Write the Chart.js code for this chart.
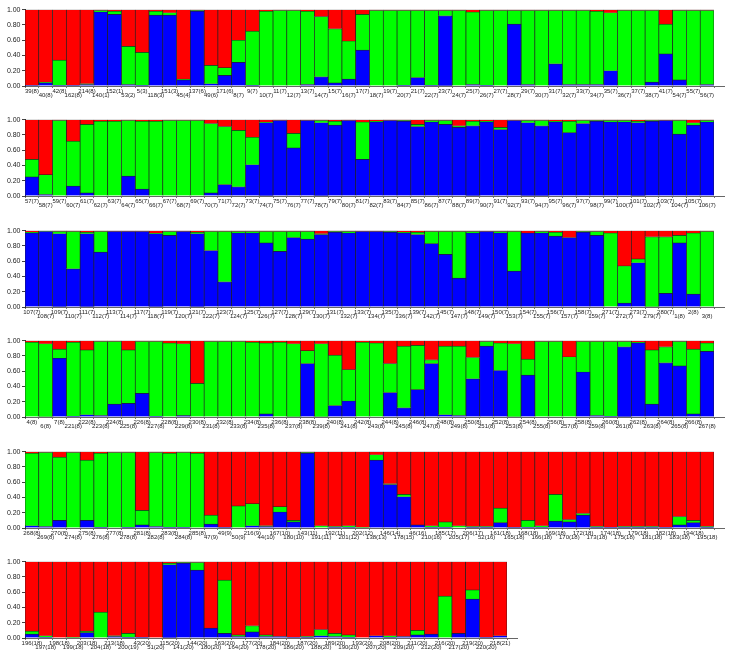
<!DOCTYPE html>
<html>
<head>
<meta charset="utf-8">
<script src="https://cdn.jsdelivr.net/npm/chart.js@4.4.1/dist/chart.umd.min.js"></script>
<style>
  html, body { margin: 0; padding: 0; background: #fff; overflow: hidden; }
  body { width: 732px; height: 656px; position: relative; }
  canvas { position: absolute; left: 0; }
</style>
</head>
<body>
<canvas id="row1" width="732" height="98" style="top:4px"></canvas>
<canvas id="row2" width="732" height="98" style="top:114px"></canvas>
<canvas id="row3" width="732" height="98" style="top:225px"></canvas>
<canvas id="row4" width="732" height="98" style="top:335px"></canvas>
<canvas id="row5" width="732" height="98" style="top:446px"></canvas>
<canvas id="row6" width="525" height="98" style="top:556px"></canvas>
<script>
// cluster membership per individual, bottom to top: blue, green, red
const row1Labels = ['39(8)','40(8)','42(8)','162(8)','214(8)','140(1)','152(1)','53(2)','5(3)','118(3)','151(3)','45(4)','137(6)','49(6)','171(6)','8(7)','9(7)','10(7)','11(7)','12(7)','13(7)','14(7)','15(7)','16(7)','17(7)','18(7)','19(7)','20(7)','21(7)','22(7)','23(7)','24(7)','25(7)','26(7)','27(7)','28(7)','29(7)','30(7)','31(7)','32(7)','33(7)','34(7)','35(7)','36(7)','37(7)','38(7)','41(7)','54(7)','55(7)','56(7)'];
const row1Blue  = [0.01,0.04,0.01,0.01,0.02,0.97,0.94,0.02,0.01,0.93,0.93,0.08,0.98,0.03,0.14,0.31,0.01,0.00,0.00,0.00,0.02,0.12,0.04,0.09,0.47,0.00,0.00,0.01,0.11,0.01,0.92,0.00,0.02,0.01,0.00,0.81,0.02,0.00,0.29,0.02,0.02,0.02,0.20,0.00,0.00,0.05,0.42,0.08,0.00,0.02];
const row1Green = [0.00,0.01,0.33,0.00,0.01,0.02,0.04,0.50,0.43,0.05,0.03,0.01,0.01,0.24,0.10,0.29,0.71,0.98,0.99,0.99,0.96,0.79,0.71,0.50,0.47,0.99,0.99,0.98,0.88,0.98,0.07,0.99,0.95,0.98,0.99,0.18,0.97,0.99,0.70,0.97,0.97,0.96,0.76,0.99,0.99,0.94,0.39,0.91,0.99,0.97];
const row1Red   = [0.99,0.95,0.66,0.99,0.97,0.01,0.02,0.48,0.56,0.02,0.04,0.91,0.01,0.73,0.76,0.40,0.28,0.02,0.01,0.01,0.02,0.09,0.25,0.41,0.06,0.01,0.01,0.01,0.01,0.01,0.01,0.01,0.03,0.01,0.01,0.01,0.01,0.01,0.01,0.01,0.01,0.02,0.04,0.01,0.01,0.01,0.19,0.01,0.01,0.01];

const row2Labels = ['57(7)','58(7)','59(7)','60(7)','61(7)','62(7)','63(7)','64(7)','65(7)','66(7)','67(7)','68(7)','69(7)','70(7)','71(7)','72(7)','73(7)','74(7)','75(7)','76(7)','77(7)','78(7)','79(7)','80(7)','81(7)','82(7)','83(7)','84(7)','85(7)','86(7)','87(7)','88(7)','89(7)','90(7)','91(7)','92(7)','93(7)','94(7)','95(7)','96(7)','97(7)','98(7)','99(7)','100(7)','101(7)','102(7)','103(7)','104(7)','105(7)','106(7)'];
const row2Blue  = [0.25,0.02,0.00,0.13,0.04,0.00,0.00,0.26,0.09,0.00,0.00,0.00,0.00,0.04,0.15,0.12,0.41,0.96,0.99,0.63,0.99,0.96,0.93,0.99,0.48,0.97,0.99,0.98,0.91,0.97,0.94,0.90,0.92,0.97,0.87,0.99,0.96,0.92,0.97,0.83,0.95,0.98,0.97,0.97,0.96,0.98,0.99,0.81,0.93,0.97];
const row2Green = [0.23,0.26,0.99,0.59,0.90,0.98,0.98,0.73,0.89,0.98,0.99,0.99,0.99,0.91,0.76,0.74,0.36,0.01,0.00,0.19,0.00,0.03,0.05,0.00,0.49,0.01,0.00,0.01,0.03,0.02,0.05,0.02,0.06,0.01,0.03,0.00,0.03,0.07,0.01,0.15,0.04,0.01,0.02,0.02,0.02,0.01,0.00,0.18,0.03,0.02];
const row2Red   = [0.52,0.72,0.01,0.28,0.06,0.02,0.02,0.01,0.02,0.02,0.01,0.01,0.01,0.05,0.09,0.14,0.23,0.03,0.01,0.18,0.01,0.01,0.02,0.01,0.03,0.02,0.01,0.01,0.06,0.01,0.01,0.08,0.02,0.02,0.10,0.01,0.01,0.01,0.02,0.02,0.01,0.01,0.01,0.01,0.02,0.01,0.01,0.01,0.04,0.01];

const row3Labels = ['107(7)','108(7)','109(7)','110(7)','111(7)','112(7)','113(7)','114(7)','117(7)','118(7)','119(7)','120(7)','121(7)','122(7)','123(7)','124(7)','125(7)','126(7)','127(7)','128(7)','129(7)','130(7)','131(7)','132(7)','133(7)','134(7)','135(7)','136(7)','139(7)','142(7)','145(7)','147(7)','148(7)','149(7)','150(7)','153(7)','154(7)','155(7)','156(7)','157(7)','158(7)','159(7)','271(7)','272(7)','273(7)','279(7)','280(7)','1(8)','2(8)','3(8)'];
const row3Blue  = [0.97,0.99,0.96,0.50,0.96,0.72,0.99,0.99,0.99,0.96,0.94,0.99,0.96,0.74,0.33,0.97,0.97,0.84,0.73,0.91,0.89,0.95,0.98,0.97,0.99,0.99,0.98,0.97,0.95,0.83,0.69,0.38,0.97,0.99,0.97,0.47,0.97,0.97,0.93,0.91,0.98,0.94,0.00,0.05,0.58,0.00,0.18,0.84,0.17,0.00];
const row3Green = [0.01,0.01,0.03,0.49,0.02,0.27,0.00,0.00,0.00,0.01,0.05,0.00,0.02,0.25,0.66,0.02,0.02,0.15,0.26,0.08,0.10,0.01,0.01,0.02,0.00,0.00,0.01,0.01,0.03,0.16,0.30,0.61,0.02,0.00,0.02,0.52,0.00,0.02,0.05,0.00,0.01,0.05,0.97,0.49,0.05,0.92,0.74,0.10,0.80,0.99];
const row3Red   = [0.02,0.00,0.01,0.01,0.02,0.01,0.01,0.01,0.01,0.03,0.01,0.01,0.02,0.01,0.01,0.01,0.01,0.01,0.01,0.01,0.01,0.04,0.01,0.01,0.01,0.01,0.01,0.02,0.02,0.01,0.01,0.01,0.01,0.01,0.01,0.01,0.03,0.01,0.02,0.09,0.01,0.01,0.03,0.46,0.37,0.08,0.08,0.06,0.03,0.01];

const row4Labels = ['4(8)','6(8)','7(8)','221(8)','222(8)','223(8)','224(8)','225(8)','226(8)','227(8)','228(8)','229(8)','230(8)','231(8)','232(8)','233(8)','234(8)','235(8)','236(8)','237(8)','238(8)','239(8)','240(8)','241(8)','242(8)','243(8)','244(8)','245(8)','246(8)','247(8)','248(8)','249(8)','250(8)','251(8)','252(8)','253(8)','254(8)','255(8)','256(8)','257(8)','258(8)','259(8)','260(8)','261(8)','262(8)','263(8)','264(8)','265(8)','266(8)','267(8)'];
const row4Blue  = [0.00,0.00,0.77,0.01,0.03,0.02,0.17,0.18,0.31,0.01,0.00,0.02,0.00,0.00,0.00,0.00,0.00,0.04,0.00,0.00,0.70,0.00,0.15,0.21,0.00,0.00,0.32,0.12,0.36,0.70,0.03,0.02,0.50,0.93,0.61,0.00,0.55,0.00,0.00,0.00,0.59,0.02,0.01,0.92,0.97,0.17,0.71,0.67,0.04,0.86];
const row4Green = [0.98,0.96,0.12,0.97,0.85,0.97,0.82,0.70,0.68,0.98,0.97,0.94,0.44,0.99,0.99,0.99,0.98,0.93,0.98,0.96,0.17,0.96,0.66,0.41,0.98,0.97,0.38,0.81,0.58,0.05,0.90,0.91,0.28,0.06,0.36,0.96,0.21,0.99,0.99,0.79,0.40,0.97,0.98,0.07,0.01,0.71,0.21,0.32,0.85,0.11];
const row4Red   = [0.02,0.04,0.11,0.02,0.12,0.01,0.01,0.12,0.01,0.01,0.03,0.04,0.56,0.01,0.01,0.01,0.02,0.03,0.02,0.04,0.13,0.04,0.19,0.38,0.02,0.03,0.30,0.07,0.06,0.25,0.07,0.07,0.22,0.01,0.03,0.04,0.24,0.01,0.01,0.21,0.01,0.01,0.01,0.01,0.02,0.12,0.08,0.01,0.11,0.03];

const row5Labels = ['268(8)','269(8)','270(8)','274(8)','275(8)','276(8)','277(8)','278(8)','281(8)','282(8)','283(8)','284(8)','285(8)','47(9)','49(9)','50(9)','216(9)','44(10)','167(10)','180(10)','143(11)','191(11)','192(11)','201(12)','202(12)','138(13)','146(14)','178(15)','46(16)','210(16)','185(17)','205(17)','206(17)','52(16)','161(18)','165(18)','168(18)','166(18)','169(18)','170(18)','172(18)','173(18)','174(18)','175(18)','179(18)','181(18)','182(18)','183(18)','194(18)','195(18)'];
const row5Blue  = [0.03,0.02,0.10,0.00,0.10,0.01,0.00,0.01,0.04,0.02,0.01,0.01,0.00,0.05,0.01,0.00,0.03,0.02,0.21,0.08,0.98,0.00,0.01,0.01,0.00,0.89,0.57,0.41,0.04,0.01,0.01,0.00,0.01,0.01,0.07,0.01,0.01,0.01,0.09,0.08,0.17,0.01,0.01,0.01,0.01,0.01,0.01,0.04,0.07,0.01];
const row5Green = [0.95,0.97,0.83,0.99,0.79,0.97,0.99,0.98,0.19,0.97,0.97,0.98,0.98,0.12,0.00,0.29,0.29,0.01,0.07,0.02,0.01,0.03,0.01,0.02,0.01,0.07,0.01,0.03,0.00,0.02,0.07,0.03,0.01,0.01,0.19,0.00,0.09,0.02,0.35,0.03,0.02,0.01,0.00,0.01,0.01,0.01,0.00,0.11,0.03,0.01];
const row5Red   = [0.02,0.01,0.07,0.01,0.11,0.02,0.01,0.01,0.77,0.01,0.02,0.01,0.02,0.83,0.99,0.71,0.68,0.97,0.72,0.90,0.01,0.97,0.98,0.97,0.99,0.04,0.42,0.56,0.96,0.97,0.92,0.97,0.98,0.98,0.74,0.99,0.90,0.97,0.56,0.89,0.81,0.98,0.99,0.98,0.98,0.98,0.99,0.85,0.90,0.98];

const row6Labels = ['196(18)','197(18)','198(18)','199(18)','203(18)','204(18)','213(18)','200(19)','43(20)','51(20)','115(20)','141(20)','144(20)','180(20)','163(20)','164(20)','177(20)','178(20)','184(20)','186(20)','187(20)','188(20)','189(20)','190(20)','193(20)','207(20)','208(20)','209(20)','211(20)','212(20)','216(20)','217(20)','219(20)','220(20)','218(21)'];
const row6Blue  = [0.05,0.01,0.00,0.00,0.07,0.00,0.02,0.01,0.01,0.00,0.96,0.98,0.89,0.13,0.06,0.02,0.08,0.02,0.02,0.01,0.01,0.03,0.02,0.01,0.00,0.03,0.01,0.02,0.04,0.05,0.00,0.06,0.51,0.01,0.03];
const row6Green = [0.04,0.02,0.00,0.01,0.02,0.34,0.01,0.05,0.00,0.00,0.02,0.01,0.10,0.00,0.70,0.02,0.08,0.02,0.00,0.00,0.01,0.08,0.04,0.03,0.00,0.00,0.02,0.00,0.06,0.00,0.55,0.00,0.12,0.00,0.00];
const row6Red   = [0.91,0.97,1.00,0.99,0.91,0.66,0.97,0.94,0.99,1.00,0.02,0.01,0.01,0.87,0.24,0.96,0.84,0.96,0.98,0.99,0.98,0.89,0.94,0.96,1.00,0.97,0.97,0.98,0.90,0.95,0.45,0.94,0.37,0.99,0.97];

const yTicks = ['0.00','0.20','0.40','0.60','0.80','1.00'];

const rows = [
  { id: 'row1', labels: row1Labels, blue: row1Blue, green: row1Green, red: row1Red },
  { id: 'row2', labels: row2Labels, blue: row2Blue, green: row2Green, red: row2Red },
  { id: 'row3', labels: row3Labels, blue: row3Blue, green: row3Green, red: row3Red },
  { id: 'row4', labels: row4Labels, blue: row4Blue, green: row4Green, red: row4Red },
  { id: 'row5', labels: row5Labels, blue: row5Blue, green: row5Green, red: row5Red },
  { id: 'row6', labels: row6Labels, blue: row6Blue, green: row6Green, red: row6Red }
];

// the x axis line runs a little past the last bar
const axisTail = {
  id: 'axisTail',
  afterDraw(chart) {
    const { ctx, chartArea } = chart;
    ctx.save();
    ctx.strokeStyle = '#666';
    ctx.lineWidth = 1;
    ctx.beginPath();
    ctx.moveTo(chartArea.right, chartArea.bottom + 0.5);
    ctx.lineTo(chartArea.right + 11, chartArea.bottom + 0.5);
    ctx.stroke();
    ctx.restore();
  }
};

const edge = '#222';

function makeRow(row) {
  const canvas = document.getElementById(row.id);
  new Chart(canvas, {
    type: 'bar',
    data: {
      labels: row.labels,
      datasets: [
        { data: row.blue, backgroundColor: '#0000ff', borderColor: edge, borderWidth: 0.7 },
        { data: row.green, backgroundColor: '#00ff00', borderColor: edge, borderWidth: 0.7 },
        { data: row.red, backgroundColor: '#ff0000', borderColor: edge, borderWidth: 0.7 }
      ]
    },
    options: {
      responsive: false,
      animation: false,
      barPercentage: 1,
      categoryPercentage: 1,
      layout: { padding: { left: 0, right: 18, top: 5, bottom: 0 } },
      plugins: { legend: { display: false }, tooltip: { enabled: false } },
      scales: {
        x: {
          stacked: true,
          afterFit: s => { s.height = 16; },
          grid: { offset: true, drawOnChartArea: false, drawTicks: true, tickLength: 2, color: '#777' },
          border: { display: true, color: '#666', width: 1 },
          ticks: {
            autoSkip: false,
            maxRotation: 0,
            minRotation: 0,
            padding: 0.5,
            color: '#222',
            font: { family: 'Liberation Sans, Arial, sans-serif', size: 6, lineHeight: 0.8 },
            callback: function (value, index) {
              const l = this.getLabelForValue(value);
              return index % 2 === 0 ? l : ['', l];
            }
          }
        },
        y: {
          stacked: true,
          min: 0,
          max: 1,
          afterFit: s => { s.width = 25; },
          grid: { drawOnChartArea: false, drawTicks: true, tickLength: 3, color: '#444' },
          border: { display: true, color: '#333', width: 1 },
          ticks: {
            stepSize: 0.2,
            padding: 1.5,
            color: '#222',
            font: { family: 'Liberation Sans, Arial, sans-serif', size: 7 },
            callback: (v) => yTicks[Math.round(v * 5)]
          }
        }
      }
    },
    plugins: [axisTail]
  });
}

rows.forEach(makeRow);
</script>
</body>
</html>
